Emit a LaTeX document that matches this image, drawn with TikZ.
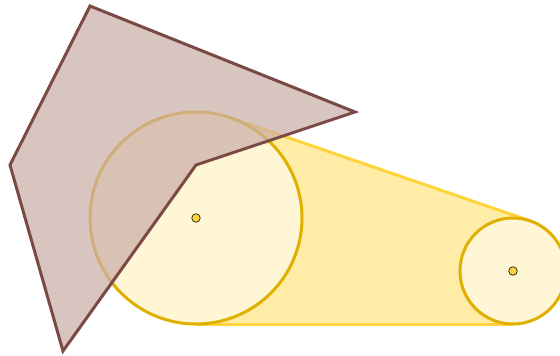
\documentclass[tikz,border=0pt]{standalone}
\usetikzlibrary{calc}
\definecolor{beltline}{HTML}{FFD43B}
\definecolor{beltfill}{HTML}{FFECA7}
\definecolor{wheelfill}{HTML}{FFF6D6}
\definecolor{wheelline}{HTML}{DFB000}
\definecolor{brownline}{HTML}{7B4A45}
\definecolor{brownfill}{HTML}{CBAEA8}
\tikzset{
  wheel/.style={draw=wheelline, fill=wheelfill, line width=3pt},
  beltedge/.style={draw=beltline, line width=3pt},
  hub/.style={circle, draw=black, fill=beltline, line width=0.6pt, inner sep=0pt, minimum size=8.5pt},
  blade/.style={draw=brownline, fill=brownfill, fill opacity=0.72, line width=3pt, line join=miter},
}
\begin{document}
\begin{tikzpicture}[x=1pt,y=-1pt]
\useasboundingbox (0,0) rectangle (560,356);
\coordinate (c1) at (196,218);
\coordinate (c2) at (513,271);
\coordinate (t1) at (230.5,117.8);
\coordinate (t2) at (530.2,220.9);
\coordinate (b1) at (196,324);
\coordinate (b2) at (513,324);
\fill[beltfill] (t1) -- (t2) -- (b2) -- (b1) -- cycle;
\draw[beltedge] (t1) -- (t2);
\draw[beltedge] (b1) -- (b2);
\draw[wheel] (c1) circle[radius=106];
\draw[wheel] (c2) circle[radius=53];
\node[hub] (h1) at (c1) {};
\node[hub] (h2) at (c2) {};
\draw[blade] (90,6) -- (355,112) -- (196,165) -- (63,351) -- (10,165) -- cycle;
\end{tikzpicture}
\end{document}
